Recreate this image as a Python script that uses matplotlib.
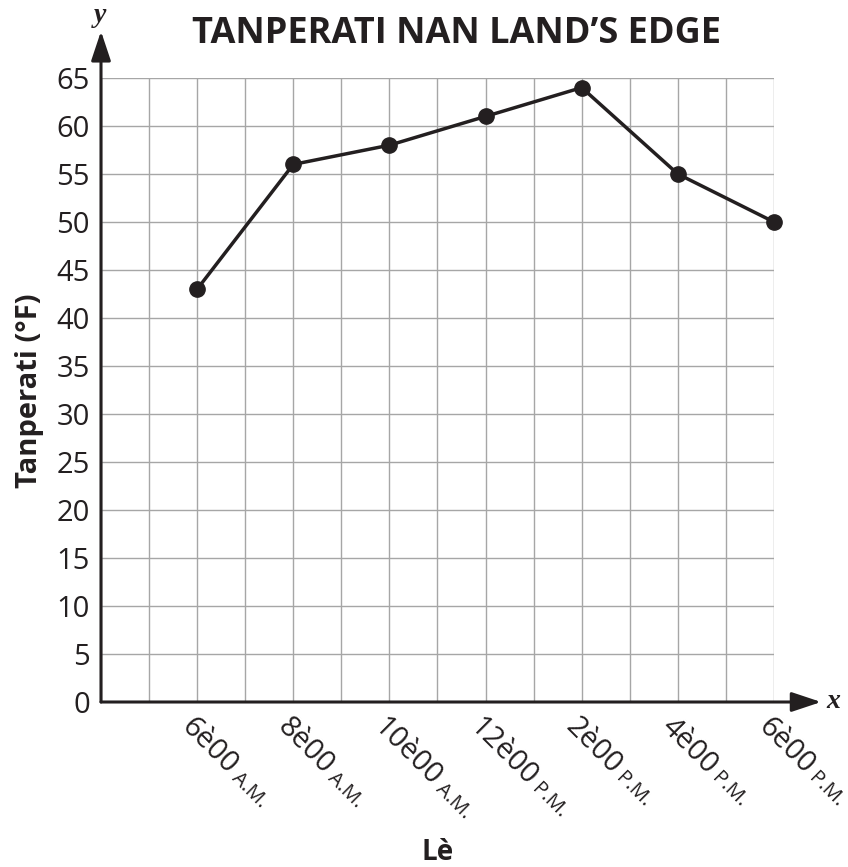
import numpy as np
import matplotlib
matplotlib.use('Agg')
import matplotlib.pyplot as plt
from matplotlib import transforms

plt.rcParams['font.family'] = ['Open Sans', 'DejaVu Sans']

# data
hours = [6, 8, 10, 12, 14, 16, 18]
temps = [43, 56, 58, 61, 64, 55, 50]
hour_labels = ['6è00', '8è00', '10è00', '12è00', '2è00', '4è00', '6è00']
ampm = ['A.M.', 'A.M.', 'A.M.', 'P.M.', 'P.M.', 'P.M.', 'P.M.']
yticks = list(range(0, 70, 5))

ink = '#231f20'
gridc = '#a6a6a6'

fig = plt.figure(figsize=(8.48, 8.67), dpi=100)
L, R, B, T = 101/848, 774/848, 1-702/867, 1-78/867
ax = fig.add_axes([L, B, R-L, T-B])
ax.set_xlim(4, 18)
ax.set_ylim(0, 65)

# grid
ax.set_xticks(range(4, 19))
ax.set_yticks(yticks)
ax.grid(True, color=gridc, linewidth=1.0)
ax.tick_params(length=0)
ax.set_xticklabels([])
ax.tick_params(axis='y', labelsize=21, labelcolor=ink, pad=8)
for s in ax.spines.values():
    s.set_visible(False)

ax.plot(hours, temps, color=ink, linewidth=2.5, marker='o', markersize=11,
        clip_on=False, zorder=5)

# axes with arrows
arrow = dict(arrowstyle='-|>,head_length=0.9,head_width=0.3', color=ink,
             linewidth=2.2, shrinkA=0, shrinkB=0, mutation_scale=20)
ax.annotate('', xy=(1.07, 0), xytext=(0, 0), xycoords='axes fraction',
            arrowprops=arrow, annotation_clip=False, zorder=6)
ax.annotate('', xy=(0, 1.075), xytext=(0, 0), xycoords='axes fraction',
            arrowprops=arrow, annotation_clip=False, zorder=6)
fig.text(833/848, 1-702/867, 'x', family='Liberation Serif', style='italic',
         fontweight='bold', fontsize=20, color=ink, ha='center', va='center')
fig.text(100/848, 1-16/867, 'y', family='Liberation Serif', style='italic',
         fontweight='bold', fontsize=20, color=ink, ha='center', va='center')

# rotated two-size tick labels
renderer = fig.canvas.get_renderer()
ang = -45
c, s_ = np.cos(np.radians(ang)), np.sin(np.radians(ang))
dx0, dy0 = -17, -26
for h, lab, ap in zip(hours, hour_labels, ampm):
    base = transforms.offset_copy(ax.get_xaxis_transform(), fig=fig,
                                  x=dx0, y=dy0, units='dots')
    ax.text(h, 0, lab, transform=base, rotation=ang, rotation_mode='anchor',
            ha='left', va='baseline', fontsize=21, color=ink)
    tmp = fig.text(0, 0, lab, fontsize=21)
    w = tmp.get_window_extent(renderer).width + 5
    tmp.remove()
    tr2 = transforms.offset_copy(ax.get_xaxis_transform(), fig=fig,
                                 x=dx0 + w*c, y=dy0 + w*s_, units='dots')
    ax.text(h, 0, ap, transform=tr2, rotation=ang, rotation_mode='anchor',
            ha='left', va='baseline', fontsize=14.5, color=ink)

fig.text(457/848, 1-34/867, 'TANPERATI NAN LAND’S EDGE', fontsize=26,
         fontweight='bold', color=ink, ha='center', va='center')
fig.text(30/848, 1-391/867, 'Tanperati (°F)', fontsize=21, fontweight='bold',
         color=ink, ha='center', va='center', rotation=90)
fig.text(438/848, 1-852/867, 'Lè', fontsize=20, fontweight='bold',
         color=ink, ha='center', va='center')

fig.savefig('out.png', dpi=100)
